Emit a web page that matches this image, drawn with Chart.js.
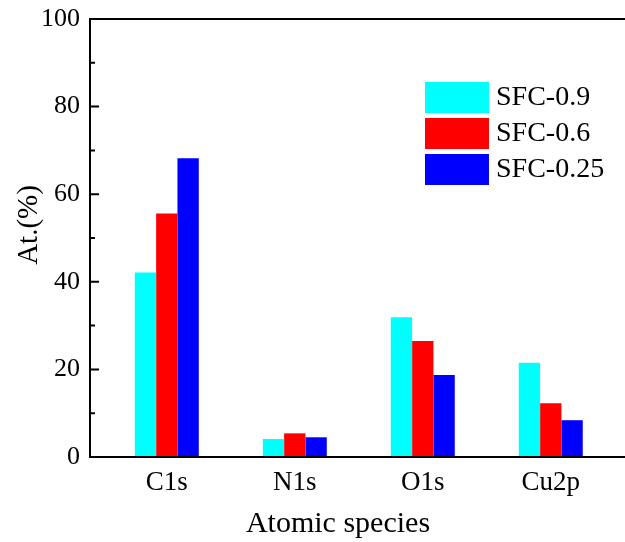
<!DOCTYPE html>
<html>
<head>
<meta charset="utf-8">
<script src="https://cdn.jsdelivr.net/npm/chart.js@4.4.1/dist/chart.umd.min.js"></script>
<style>
    html, body { margin: 0; padding: 0; background: #fff; }
    #wrap { width: 625px; height: 542px; position: relative; }
</style>
</head>
<body>
<div id="wrap"><canvas id="xpsChart"></canvas></div>
<script>
// Data
const categories = ['C1s', 'N1s', 'O1s', 'Cu2p'];
const seriesNames = ['SFC-0.9', 'SFC-0.6', 'SFC-0.25'];
const sfc09 = [42.1, 4.1, 31.9, 21.5];
const sfc06 = [55.6, 5.4, 26.5, 12.3];
const sfc025 = [68.2, 4.5, 18.7, 8.4];
const yTicks = [0, 20, 40, 60, 80, 100];
const yMinorTicks = [10, 30, 50, 70, 90];

const colors = ['#00ffff', '#ff0000', '#0000ff'];
const serif = "'Liberation Serif', 'Times New Roman', serif";

const toPoints = arr => arr.map((v, i) => ({ x: i + 1, y: v }));

// Origin-style axes, inward ticks, titles and legend
const framePlugin = {
    id: 'frame',
    afterDraw(chart) {
        const { ctx, chartArea: a, scales } = chart;
        const x = scales.x, y = scales.y;
        ctx.save();
        ctx.strokeStyle = '#000';
        ctx.lineWidth = 2;
        ctx.beginPath();
        ctx.moveTo(a.right, a.top);
        ctx.lineTo(a.left, a.top);
        ctx.lineTo(a.left, a.bottom);
        ctx.lineTo(a.right, a.bottom);
        ctx.stroke();

        // y ticks (inside)
        ctx.beginPath();
        yTicks.forEach(t => {
            const py = y.getPixelForValue(t);
            ctx.moveTo(a.left, py);
            ctx.lineTo(a.left + 9, py);
        });
        yMinorTicks.forEach(t => {
            const py = y.getPixelForValue(t);
            ctx.moveTo(a.left, py);
            ctx.lineTo(a.left + 5, py);
        });
        ctx.stroke();

        ctx.fillStyle = '#000';
        ctx.font = '26px ' + serif;
        ctx.textAlign = 'right';
        ctx.textBaseline = 'middle';
        yTicks.forEach(t => ctx.fillText(String(t), a.left - 10, y.getPixelForValue(t)));

        ctx.textAlign = 'center';
        ctx.textBaseline = 'alphabetic';
        ctx.font = '27px ' + serif;
        categories.forEach((c, i) => ctx.fillText(c, x.getPixelForValue(i + 1), a.bottom + 33));

        // axis titles
        ctx.font = '30px ' + serif;
        ctx.fillText('Atomic species', 338, 532);
        ctx.save();
        ctx.translate(29, 225);
        ctx.rotate(-Math.PI / 2);
        ctx.font = '29px ' + serif;
        ctx.textBaseline = 'middle';
        ctx.fillText('At.(%)', 0, 0);
        ctx.restore();

        // legend
        ctx.font = '28px ' + serif;
        ctx.textAlign = 'left';
        ctx.textBaseline = 'middle';
        chart.data.datasets.forEach((ds, i) => {
            const top = 82 + i * 36;
            ctx.fillStyle = ds.backgroundColor;
            ctx.fillRect(425, top, 64, 31);
            ctx.fillStyle = '#000';
            ctx.fillText(ds.label, 496, top + 16);
        });
        ctx.restore();
    }
};

new Chart(document.getElementById('xpsChart'), {
    type: 'bar',
    data: {
        datasets: [sfc09, sfc06, sfc025].map((vals, i) => ({
            label: seriesNames[i],
            data: toPoints(vals),
            backgroundColor: colors[i],
            borderWidth: 0,
            categoryPercentage: 0.5,
            barPercentage: 1.0
        }))
    },
    options: {
        responsive: true,
        maintainAspectRatio: false,
        animation: false,
        layout: { padding: { left: 90, top: 19, right: 0, bottom: 85 } },
        plugins: {
            legend: { display: false },
            tooltip: { enabled: false }
        },
        scales: {
            x: {
                type: 'linear',
                display: false,
                offset: false,
                min: 0.4,
                max: 4.58,
                ticks: { stepSize: 1, includeBounds: false },
                afterBuildTicks: s => { s.ticks = [1, 2, 3, 4].map(v => ({ value: v })); }
            },
            y: {
                display: false,
                min: 0,
                max: 100
            }
        }
    },
    plugins: [framePlugin]
});
</script>
</body>
</html>
